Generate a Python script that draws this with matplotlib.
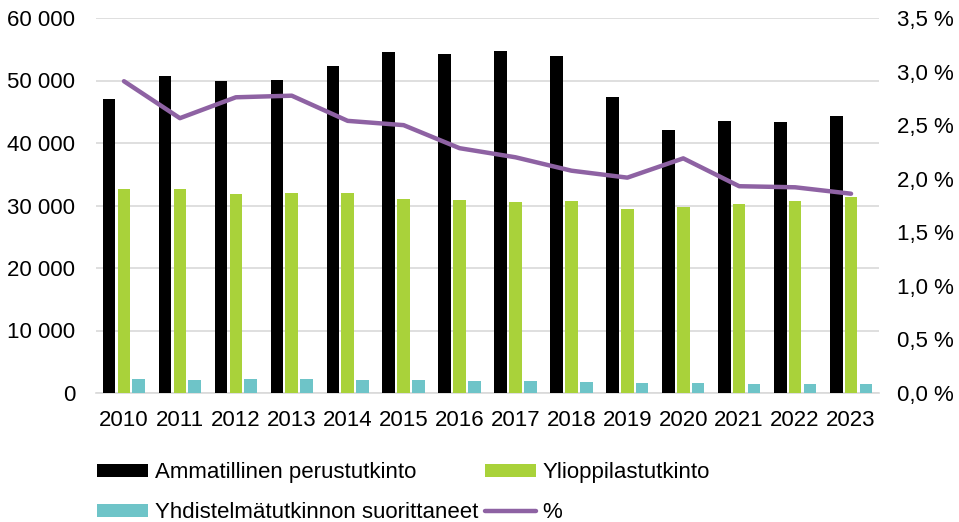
import numpy as np
import matplotlib
matplotlib.use("Agg")
import matplotlib.pyplot as plt
from matplotlib.ticker import FuncFormatter

plt.rcParams['font.family'] = ['Liberation Sans', 'DejaVu Sans']

# data
years = ['2010', '2011', '2012', '2013', '2014', '2015', '2016',
         '2017', '2018', '2019', '2020', '2021', '2022', '2023']
ammatillinen = [47000, 50700, 50000, 50100, 52400, 54600, 54200,
                54800, 54000, 47300, 42100, 43600, 43400, 44400]
ylioppilas = [32600, 32700, 31900, 32000, 32000, 31000, 30900,
              30600, 30800, 29500, 29800, 30300, 30800, 31300]
yhdistelma = [2240, 2080, 2190, 2240, 2080, 2080, 1920,
              1870, 1710, 1550, 1550, 1440, 1390, 1390]
osuus = [2.91, 2.565, 2.76, 2.775, 2.54, 2.50, 2.285,
         2.20, 2.075, 2.01, 2.19, 1.93, 1.92, 1.86]

c_black = '#000000'
c_green = '#A9D23A'
c_cyan = '#6EC4C8'
c_purple = '#8E62A3'

fig = plt.figure(figsize=(9.59, 5.22), dpi=100)
ax = fig.add_axes([96/959, 1 - 393/522, 783/959, 375/522])
ax2 = ax.twinx()

x = np.arange(len(years))
w = 0.225
b1 = ax.bar(x - 0.265, ammatillinen, w, color=c_black, label='Ammatillinen perustutkinto', zorder=3)
b2 = ax.bar(x, ylioppilas, w, color=c_green, label='Ylioppilastutkinto', zorder=3)
b3 = ax.bar(x + 0.265, yhdistelma, w, color=c_cyan, label='Yhdistelmätutkinnon suorittaneet', zorder=3)
l1, = ax2.plot(x, osuus, color=c_purple, lw=3.2, solid_capstyle='round', label='%')

ax.set_xlim(-0.5, len(years) - 0.5)
ax.set_ylim(0, 60000)
ax.set_yticks(np.arange(0, 60001, 10000))
ax.yaxis.set_major_formatter(FuncFormatter(lambda v, p: f'{int(v):,}'.replace(',', ' ')))
ax2.set_ylim(0, 3.5)
ax2.set_yticks(np.arange(0, 3.51, 0.5))
ax2.yaxis.set_major_formatter(FuncFormatter(lambda v, p: f'{v:.1f} %'.replace('.', ',')))
ax.set_xticks(x)
ax.set_xticklabels(years)

ax.grid(axis='y', color='#d9d9d9', lw=1.2, zorder=0)
for a in (ax, ax2):
    for s in a.spines.values():
        s.set_visible(False)
    a.tick_params(length=0, labelsize=16, colors='black')
ax.spines['bottom'].set_visible(True)
ax.spines['bottom'].set_color('#d9d9d9')
ax.spines['bottom'].set_linewidth(1.2)
ax.tick_params(axis='y', pad=15)
ax.tick_params(axis='x', pad=12)
ax2.tick_params(axis='y', pad=13)

handles = [b1, b3, b2, l1]
labels = [h.get_label() for h in handles]
fig.legend(handles, labels, ncol=2, frameon=False, fontsize=16,
           loc='upper left', bbox_to_anchor=(77/959, 1 - 442/522),
           handlelength=2.3, handleheight=0.54, handletextpad=0.3,
           columnspacing=0.3, labelspacing=0.87)

fig.savefig('out.png', dpi=100)
